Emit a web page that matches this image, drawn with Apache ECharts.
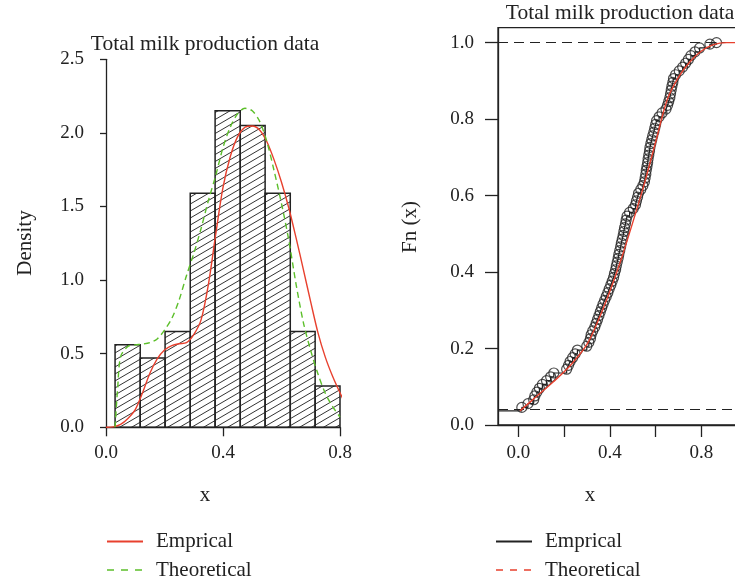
<!DOCTYPE html>
<html>
<head>
<meta charset="utf-8">
<script src="https://cdn.jsdelivr.net/npm/echarts@6/dist/echarts.min.js"></script>
<style>
  html, body { margin: 0; padding: 0; background: #fff; }
  #main { width: 735px; height: 584px; }
</style>
</head>
<body>
<div id="main"></div>
<script>
// histogram (left)
var binEdges = [0.031, 0.117, 0.202, 0.288, 0.373, 0.459, 0.544, 0.630, 0.715, 0.800];
var binDensity = [0.56, 0.47, 0.65, 1.59, 2.15, 2.05, 1.59, 0.65, 0.28];

// empirical density (red) and theoretical density (green)
var empDensX = [0.0, 0.025, 0.05, 0.075, 0.1, 0.125, 0.15, 0.175, 0.2, 0.225, 0.25, 0.275, 0.3, 0.325, 0.35, 0.375, 0.4, 0.425, 0.45, 0.475, 0.5, 0.525, 0.55, 0.575, 0.6, 0.625, 0.65, 0.675, 0.7, 0.725, 0.75, 0.775, 0.8, 0.825, 0.85, 0.875, 0.9, 0.925, 0.95];
var empDensY = [0.0, 0.003, 0.02, 0.06, 0.12, 0.235, 0.367, 0.465, 0.525, 0.555, 0.568, 0.575, 0.63, 0.73, 0.97, 1.31, 1.63, 1.84, 1.975, 2.038, 2.047, 2.02, 1.94, 1.815, 1.665, 1.49, 1.285, 1.07, 0.85, 0.64, 0.475, 0.345, 0.235, 0.135, 0.075, 0.04, 0.018, 0.007, 0.002];
var theoDensX = [0.031, 0.04, 0.05, 0.075, 0.1, 0.125, 0.15, 0.175, 0.2, 0.225, 0.25, 0.275, 0.3, 0.325, 0.35, 0.375, 0.4, 0.425, 0.45, 0.475, 0.5, 0.525, 0.55, 0.575, 0.6, 0.625, 0.65, 0.675, 0.7, 0.725, 0.75, 0.775, 0.8];
var theoDensY = [0.0, 0.27, 0.48, 0.55, 0.56, 0.565, 0.575, 0.6, 0.66, 0.74, 0.865, 1.03, 1.18, 1.35, 1.54, 1.71, 1.9, 2.04, 2.13, 2.167, 2.15, 2.08, 1.94, 1.74, 1.52, 1.27, 0.97, 0.71, 0.52, 0.36, 0.23, 0.14, 0.07];

// ECDF points (right)
var ecdfX = [0.015, 0.042, 0.067, 0.072, 0.081, 0.092, 0.105, 0.123, 0.141, 0.155,
  0.211, 0.219, 0.226, 0.237, 0.248, 0.258, 0.299, 0.308, 0.315, 0.318,
  0.325, 0.334, 0.340, 0.346, 0.352, 0.358, 0.364, 0.370, 0.377, 0.384,
  0.391, 0.397, 0.404, 0.410, 0.416, 0.420, 0.425, 0.428, 0.432, 0.436,
  0.439, 0.443, 0.447, 0.450, 0.454, 0.458, 0.461, 0.464, 0.468, 0.471,
  0.475, 0.486, 0.502, 0.512, 0.516, 0.521, 0.525, 0.535, 0.544, 0.551,
  0.554, 0.557, 0.559, 0.562, 0.565, 0.567, 0.570, 0.573, 0.575, 0.579,
  0.583, 0.587, 0.592, 0.596, 0.600, 0.604, 0.615, 0.628, 0.645, 0.652,
  0.657, 0.662, 0.665, 0.668, 0.671, 0.675, 0.678, 0.687, 0.703, 0.718,
  0.731, 0.743, 0.754, 0.772, 0.792, 0.837, 0.866];
var ecdfY = [0.046, 0.056, 0.066, 0.076, 0.086, 0.096, 0.106, 0.116, 0.126, 0.136,
  0.146, 0.156, 0.166, 0.176, 0.186, 0.196, 0.206, 0.216, 0.226, 0.236,
  0.246, 0.256, 0.266, 0.276, 0.286, 0.296, 0.306, 0.316, 0.326, 0.336,
  0.346, 0.356, 0.366, 0.376, 0.386, 0.396, 0.406, 0.416, 0.426, 0.436,
  0.446, 0.456, 0.466, 0.476, 0.486, 0.496, 0.506, 0.516, 0.526, 0.536,
  0.546, 0.556, 0.566, 0.576, 0.586, 0.596, 0.606, 0.616, 0.626, 0.636,
  0.646, 0.656, 0.666, 0.676, 0.686, 0.696, 0.706, 0.716, 0.726, 0.736,
  0.746, 0.756, 0.766, 0.776, 0.786, 0.796, 0.806, 0.816, 0.826, 0.836,
  0.846, 0.856, 0.866, 0.876, 0.886, 0.896, 0.906, 0.916, 0.926, 0.936,
  0.946, 0.956, 0.966, 0.976, 0.986, 0.996, 1.000];
var ecdfLevels = [0.037, 1.0];   // dashed reference lines

// theoretical CDF (red, right)
var theoCdfX = [0.007, 0.08, 0.153, 0.226, 0.299, 0.35, 0.40, 0.45, 0.50, 0.55, 0.60, 0.65, 0.70, 0.75, 0.80, 0.85, 0.91, 1.05];
var theoCdfY = [0.037, 0.075, 0.113, 0.155, 0.21, 0.275, 0.35, 0.435, 0.53, 0.63, 0.74, 0.85, 0.91, 0.95, 0.978, 0.994, 1.0, 1.0];

// ticks
var rightXTicks = [0, 0.2, 0.4, 0.6, 0.8];
var rightXLabels = [0, 0.4, 0.8];
var rightYTicks = [0, 0.2, 0.4, 0.6, 0.8, 1.0];

var legendText = {
    empDens: 'Emprical', theoDens: 'Theoretical',
    empCdf: 'Emprical', theoCdf: 'Theoretical'
};

var FONT = 'Liberation Serif';
var INK = '#222';
var RED = '#e8402e';
var GREEN = '#5cbf2a';

function pairs(xs, ys) {
    return xs.map(function (x, i) { return [x, ys[i]]; });
}

function hatch() {
    var w = 12, h = 7;
    var c = document.createElement('canvas');
    c.width = w; c.height = h;
    var ctx = c.getContext('2d');
    ctx.strokeStyle = '#333';
    ctx.lineWidth = 1;
    for (var k = -1; k <= 1; k++) {
        ctx.beginPath();
        ctx.moveTo(-1, h + h / w + k * h);
        ctx.lineTo(w + 1, -h / w + k * h);
        ctx.stroke();
    }
    return { image: c, repeat: 'repeat' };
}
var hatchFill = hatch();

var bins = binDensity.map(function (d, i) { return [binEdges[i], binEdges[i + 1], d]; });

var myChart = echarts.init(document.getElementById('main'), null, { renderer: 'canvas' });

var fmt1 = function (v) { return Number(v).toFixed(1); };
var labelStyle = { fontFamily: FONT, fontSize: 19, color: INK };
var axisLineStyle = { show: true, onZero: false, lineStyle: { color: INK, width: 1.3 } };

function textEl(x, y, text, size, rot) {
    return {
        type: 'text', x: x, y: y, rotation: rot || 0,
        style: {
            text: text, font: size + 'px "Liberation Serif"', fill: INK,
            align: 'center', verticalAlign: 'middle', textAlign: 'center', textVerticalAlign: 'middle'
        }
    };
}

function legendOpt(left, data) {
    return {
        orient: 'vertical', left: left, top: 531, padding: 0,
        itemWidth: 36, itemHeight: 14, itemGap: 7.6,
        data: data,
        itemStyle: { opacity: 0 },
        formatter: function (n) { return legendText[n]; },
        textStyle: { fontFamily: FONT, fontSize: 21, color: INK, lineHeight: 20, padding: [0, 0, 0, 8] },
        selectedMode: false
    };
}

var legendDash = { type: [7, 7], width: 1.5 };

var option = {
    animation: false,
    backgroundColor: '#fff',
    grid: [
        { left: 106, top: 59.3, width: 234, height: 368, outerBoundsMode: 'none' },
        { left: 498, top: 27.7, width: 262, height: 397.3, show: true, borderColor: INK, borderWidth: 1.3, outerBoundsMode: 'none' }
    ],
    xAxis: [
        {
            gridIndex: 0, type: 'value', min: 0, max: 0.8, interval: 0.4,
            splitLine: { show: false },
            axisLine: axisLineStyle,
            axisTick: { show: true, length: 9, lineStyle: { color: INK, width: 1.3 } },
            axisLabel: Object.assign({ margin: 16, formatter: fmt1 }, labelStyle)
        },
        {
            gridIndex: 1, type: 'value', min: -0.089, max: 1.056,
            splitLine: { show: false },
            axisLine: axisLineStyle,
            axisTick: { show: true, length: 12, customValues: rightXTicks, lineStyle: { color: INK, width: 1.3 } },
            axisLabel: Object.assign({ margin: 19, formatter: fmt1, customValues: rightXLabels }, labelStyle)
        }
    ],
    yAxis: [
        {
            gridIndex: 0, type: 'value', min: 0, max: 2.5, interval: 0.5,
            splitLine: { show: false },
            axisLine: axisLineStyle,
            axisTick: { show: true, length: 6, lineStyle: { color: INK, width: 1.3 } },
            axisLabel: Object.assign({ margin: 22, formatter: fmt1 }, labelStyle)
        },
        {
            gridIndex: 1, type: 'value', min: 0, max: 1.039,
            splitLine: { show: false },
            axisLine: axisLineStyle,
            axisTick: { show: true, length: 13, customValues: rightYTicks, lineStyle: { color: INK, width: 1.3 } },
            axisLabel: Object.assign({ margin: 24, formatter: fmt1, customValues: rightYTicks }, labelStyle)
        }
    ],
    legend: [
        legendOpt(106, [{ name: 'empDens' }, { name: 'theoDens', lineStyle: legendDash }]),
        legendOpt(495, [{ name: 'empCdf' }, { name: 'theoCdf', lineStyle: legendDash }])
    ],
    graphic: [
        textEl(205, 44, 'Total milk production data', 21.5),
        textEl(620, 13, 'Total milk production data', 21.5),
        textEl(25, 243, 'Density', 21, Math.PI / 2),
        textEl(410, 227, 'Fn (x)', 21, Math.PI / 2),
        textEl(205, 495, 'x', 21),
        textEl(590, 495, 'x', 21)
    ],
    series: [
        {
            name: 'hist', type: 'custom', xAxisIndex: 0, yAxisIndex: 0,
            data: bins,
            encode: { x: [0, 1], y: 2 },
            renderItem: function (params, api) {
                var p0 = api.coord([api.value(0), 0]);
                var p1 = api.coord([api.value(1), api.value(2)]);
                return {
                    type: 'rect',
                    shape: { x: p0[0], y: p1[1], width: p1[0] - p0[0], height: p0[1] - p1[1] },
                    style: { fill: hatchFill, stroke: INK, lineWidth: 1.5 }
                };
            },
            z: 1
        },
        {
            name: 'empDens', type: 'line', xAxisIndex: 0, yAxisIndex: 0,
            data: pairs(empDensX, empDensY),
            showSymbol: false, symbol: 'none', smooth: 0.3, clip: false,
            lineStyle: { color: RED, width: 1.4 }, itemStyle: { color: RED }, z: 3
        },
        {
            name: 'theoDens', type: 'line', xAxisIndex: 0, yAxisIndex: 0,
            data: pairs(theoDensX, theoDensY),
            showSymbol: false, symbol: 'none', smooth: 0.3, clip: false,
            lineStyle: { color: GREEN, width: 1.4, type: [6, 4] }, itemStyle: { color: GREEN }, z: 4
        },
        {
            name: 'empCdf', type: 'line', xAxisIndex: 1, yAxisIndex: 1,
            data: [[-0.089, ecdfLevels[0]]].concat(pairs(ecdfX, ecdfY)),
            step: 'end', showSymbol: false, symbol: 'none',
            lineStyle: { color: INK, width: 1.2 }, itemStyle: { color: INK }, z: 2,
            markLine: {
                silent: true, symbol: ['none', 'none'], label: { show: false },
                lineStyle: { color: INK, width: 1.2, type: [10, 6] },
                data: ecdfLevels.map(function (v) { return { yAxis: v }; })
            }
        },
        {
            name: 'ecdfPoints', type: 'scatter', xAxisIndex: 1, yAxisIndex: 1,
            data: pairs(ecdfX, ecdfY),
            symbol: 'circle', symbolSize: 10,
            itemStyle: { color: 'rgba(0,0,0,0)', borderColor: INK, borderWidth: 1.2 }, z: 3
        },
        {
            name: 'theoCdf', type: 'line', xAxisIndex: 1, yAxisIndex: 1,
            data: pairs(theoCdfX, theoCdfY),
            showSymbol: false, symbol: 'none', smooth: 0.3,
            lineStyle: { color: RED, width: 1.4 }, itemStyle: { color: RED }, z: 5
        }
    ]
};

myChart.setOption(option);
</script>
</body>
</html>
